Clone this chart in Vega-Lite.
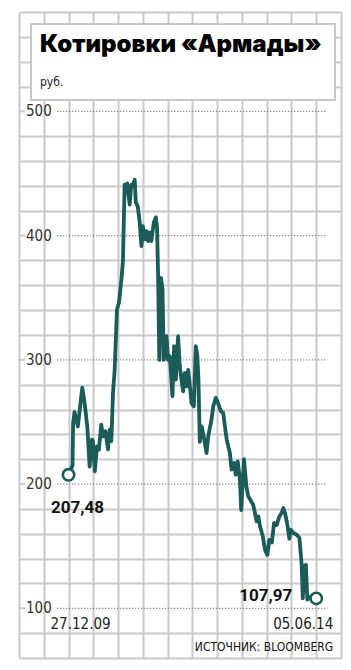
{
  "$schema": "https://vega.github.io/schema/vega-lite/v6.json",
  "width": 322,
  "height": 646,
  "autosize": {"type": "none"},
  "padding": {"left": 19, "top": 12, "right": 10, "bottom": 12},
  "background": "white",
  "config": {"view": {"stroke": null}},
  "title": {
    "text": "Котировки «Армады»",
    "subtitle": "руб.",
    "anchor": "start",
    "frame": "group",
    "offset": -81,
    "dx": 21,
    "font": "Inter",
    "fontSize": 24,
    "fontWeight": 900,
    "color": "#000000",
    "subtitleFont": "Liberation Sans Narrow, DejaVu Sans Condensed, Roboto",
    "subtitleFontSize": 12,
    "subtitleColor": "#222222",
    "subtitlePadding": 20
  },
  "datasets": {
    "prices": [
      {"date": "2009-12-27", "price": 207.48},
      {"date": "2010-01-22", "price": 215},
      {"date": "2010-01-26", "price": 249},
      {"date": "2010-02-04", "price": 258},
      {"date": "2010-02-26", "price": 246.5},
      {"date": "2010-03-27", "price": 277.7},
      {"date": "2010-04-11", "price": 265.4},
      {"date": "2010-04-29", "price": 246},
      {"date": "2010-05-14", "price": 214},
      {"date": "2010-05-29", "price": 235.8},
      {"date": "2010-06-04", "price": 235},
      {"date": "2010-06-17", "price": 210.2},
      {"date": "2010-07-01", "price": 230.4},
      {"date": "2010-07-14", "price": 227.7},
      {"date": "2010-07-29", "price": 247.9},
      {"date": "2010-08-09", "price": 238.4},
      {"date": "2010-08-25", "price": 242.5},
      {"date": "2010-09-11", "price": 228},
      {"date": "2010-09-22", "price": 243.8},
      {"date": "2010-10-03", "price": 234.6},
      {"date": "2010-10-14", "price": 273.6},
      {"date": "2010-10-25", "price": 292},
      {"date": "2010-11-09", "price": 340.5},
      {"date": "2010-11-22", "price": 346},
      {"date": "2010-12-08", "price": 364.7},
      {"date": "2010-12-18", "price": 379.5},
      {"date": "2010-12-29", "price": 441},
      {"date": "2011-01-08", "price": 437},
      {"date": "2011-01-15", "price": 442},
      {"date": "2011-01-31", "price": 425},
      {"date": "2011-02-11", "price": 441},
      {"date": "2011-02-20", "price": 440},
      {"date": "2011-03-05", "price": 445},
      {"date": "2011-03-12", "price": 427},
      {"date": "2011-03-25", "price": 423.5},
      {"date": "2011-04-07", "price": 410.6},
      {"date": "2011-04-18", "price": 391.5},
      {"date": "2011-04-28", "price": 407.6},
      {"date": "2011-05-10", "price": 397},
      {"date": "2011-05-21", "price": 403.6},
      {"date": "2011-05-31", "price": 395.6},
      {"date": "2011-06-11", "price": 402.6},
      {"date": "2011-06-22", "price": 395.6},
      {"date": "2011-07-08", "price": 410.6},
      {"date": "2011-07-21", "price": 414.7},
      {"date": "2011-07-29", "price": 407.6},
      {"date": "2011-08-05", "price": 368.7},
      {"date": "2011-08-13", "price": 300},
      {"date": "2011-08-24", "price": 366},
      {"date": "2011-09-03", "price": 357},
      {"date": "2011-09-11", "price": 300},
      {"date": "2011-09-29", "price": 319},
      {"date": "2011-10-09", "price": 300},
      {"date": "2011-10-21", "price": 303},
      {"date": "2011-11-07", "price": 270.7},
      {"date": "2011-11-18", "price": 311},
      {"date": "2011-11-29", "price": 284},
      {"date": "2011-12-14", "price": 319},
      {"date": "2011-12-25", "price": 295},
      {"date": "2012-01-05", "price": 284},
      {"date": "2012-01-16", "price": 274.7},
      {"date": "2012-01-27", "price": 289.5},
      {"date": "2012-02-07", "price": 278.7},
      {"date": "2012-02-18", "price": 292},
      {"date": "2012-02-29", "price": 279},
      {"date": "2012-03-11", "price": 265},
      {"date": "2012-03-26", "price": 262.6},
      {"date": "2012-04-08", "price": 311},
      {"date": "2012-04-18", "price": 303},
      {"date": "2012-04-25", "price": 285},
      {"date": "2012-05-04", "price": 234},
      {"date": "2012-05-16", "price": 246.5},
      {"date": "2012-06-02", "price": 236},
      {"date": "2012-06-17", "price": 225},
      {"date": "2012-06-28", "price": 238.4},
      {"date": "2012-07-20", "price": 252},
      {"date": "2012-07-31", "price": 262.6},
      {"date": "2012-08-17", "price": 269.4},
      {"date": "2012-09-01", "price": 265},
      {"date": "2012-09-19", "price": 258.6},
      {"date": "2012-10-04", "price": 257.3},
      {"date": "2012-10-27", "price": 235.8},
      {"date": "2012-11-17", "price": 225},
      {"date": "2012-11-28", "price": 211.6},
      {"date": "2012-12-15", "price": 217},
      {"date": "2012-12-25", "price": 207.6},
      {"date": "2013-01-07", "price": 218.3},
      {"date": "2013-01-22", "price": 203},
      {"date": "2013-01-30", "price": 179},
      {"date": "2013-02-17", "price": 220},
      {"date": "2013-03-05", "price": 198},
      {"date": "2013-03-17", "price": 190},
      {"date": "2013-03-28", "price": 188},
      {"date": "2013-04-19", "price": 183},
      {"date": "2013-04-30", "price": 176.7},
      {"date": "2013-05-11", "price": 170},
      {"date": "2013-05-22", "price": 174},
      {"date": "2013-06-02", "price": 166},
      {"date": "2013-06-20", "price": 158},
      {"date": "2013-07-05", "price": 147},
      {"date": "2013-07-20", "price": 143},
      {"date": "2013-08-02", "price": 155},
      {"date": "2013-08-19", "price": 153},
      {"date": "2013-09-02", "price": 168.7},
      {"date": "2013-09-19", "price": 167},
      {"date": "2013-10-07", "price": 174},
      {"date": "2013-10-22", "price": 177},
      {"date": "2013-11-02", "price": 180.7},
      {"date": "2013-11-13", "price": 176.7},
      {"date": "2013-11-28", "price": 167.3},
      {"date": "2013-12-11", "price": 156},
      {"date": "2013-12-20", "price": 163.3},
      {"date": "2014-01-06", "price": 160.6},
      {"date": "2014-01-28", "price": 159.2},
      {"date": "2014-02-15", "price": 156.6},
      {"date": "2014-03-01", "price": 136},
      {"date": "2014-03-09", "price": 108},
      {"date": "2014-03-20", "price": 134},
      {"date": "2014-03-29", "price": 135},
      {"date": "2014-04-08", "price": 107},
      {"date": "2014-04-21", "price": 109},
      {"date": "2014-05-09", "price": 108.5},
      {"date": "2014-06-05", "price": 107.97}
    ],
    "ends": [
      {"date": "2009-12-27", "price": 207.48, "label": "207,48", "dateLabel": "27.12.09", "side": "start"},
      {"date": "2014-06-05", "price": 107.97, "label": "107,97", "dateLabel": "05.06.14", "side": "end"}
    ],
    "levels": [
      {"level": 100}, {"level": 200}, {"level": 300}, {"level": 400}, {"level": 500}
    ]
  },
  "encoding": {
    "x": {"type": "temporal", "scale": {"type": "utc", "domain": [1233861120000, 1415931840000]},
      "axis": {"values": [1233861120000, 1247866560000, 1261872000000, 1275877440000, 1289882880000, 1303888320000, 1317893760000, 1331899200000, 1345904640000, 1359910080000, 1373915520000, 1387920960000, 1401926400000, 1415931840000],
        "grid": true, "gridColor": "#c9c9c9", "gridWidth": 2, "labels": false, "ticks": false, "domain": false, "title": null}},
    "y": {"type": "quantitative", "scale": {"domain": [60, 580], "nice": false, "zero": false},
      "axis": {"values": [60, 80, 120, 140, 160, 180, 220, 240, 260, 280, 320, 340, 360, 380, 420, 440, 460, 480, 520, 540, 560, 580],
        "grid": true, "gridColor": "#c9c9c9", "gridWidth": 2, "ticks": false, "domain": false, "title": null,
        "labelExpr": "''", "labelOverlap": false}}
  },
  "layer": [
    {
      "data": {"values": [{}]},
      "mark": {"type": "rect", "fill": "white", "stroke": "#c8c8c8", "strokeWidth": 2},
      "encoding": {
        "x": {"datum": 1240646756000, "type": "temporal"},
        "x2": {"datum": 1412542524000},
        "y": {"datum": 570.3, "type": "quantitative"},
        "y2": {"datum": 509.2}
      }
    },
    {
      "data": {"name": "levels"},
      "mark": {"type": "rule", "stroke": "#c9c9c9", "strokeWidth": 2},
      "encoding": {
        "y": {"field": "level", "type": "quantitative"},
        "x": {"datum": 1233861120000, "type": "temporal"},
        "x2": {"datum": 1237253549000}
      }
    },
    {
      "data": {"name": "levels"},
      "mark": {"type": "rule", "stroke": "#8a8a8a", "strokeWidth": 1.3, "strokeDash": [1.3, 1.7]},
      "encoding": {
        "y": {"field": "level", "type": "quantitative"},
        "x": {"datum": 1255345465000, "type": "temporal"},
        "x2": {"datum": 1407448543000}
      }
    },
    {
      "data": {"name": "levels"},
      "mark": {"type": "text", "font": "Liberation Sans Narrow, DejaVu Sans Condensed, Roboto", "fontSize": 15, "color": "#333333", "align": "left", "baseline": "middle", "dx": 7},
      "encoding": {
        "y": {"field": "level", "type": "quantitative"},
        "x": {"datum": 1233861120000, "type": "temporal"},
        "text": {"field": "level", "type": "quantitative"}
      }
    },
    {
      "data": {"name": "prices"},
      "mark": {"type": "line", "stroke": "#1b5b58", "strokeWidth": 3.8, "strokeJoin": "round", "strokeCap": "round"},
      "encoding": {
        "x": {"field": "date", "type": "temporal"},
        "y": {"field": "price", "type": "quantitative"}
      }
    },
    {
      "data": {"name": "ends"},
      "mark": {"type": "point", "shape": "circle", "filled": true, "fill": "white", "stroke": "#1b5b58", "strokeWidth": 2.6, "size": 130, "opacity": 1},
      "encoding": {
        "x": {"field": "date", "type": "temporal"},
        "y": {"field": "price", "type": "quantitative"}
      }
    },
    {
      "data": {"name": "ends"},
      "transform": [{"filter": "datum.side === 'start'"}],
      "mark": {"type": "text", "font": "Roboto", "fontWeight": "bold", "fontSize": 17, "color": "#111111", "align": "center", "baseline": "middle", "dx": 9, "dy": 33},
      "encoding": {
        "x": {"field": "date", "type": "temporal"},
        "y": {"field": "price", "type": "quantitative"},
        "text": {"field": "label"}
      }
    },
    {
      "data": {"name": "ends"},
      "transform": [{"filter": "datum.side === 'end'"}],
      "mark": {"type": "text", "font": "Roboto", "fontWeight": "bold", "fontSize": 17, "color": "#111111", "align": "right", "baseline": "middle", "dx": -24, "dy": -2},
      "encoding": {
        "x": {"field": "date", "type": "temporal"},
        "y": {"field": "price", "type": "quantitative"},
        "text": {"field": "label"}
      }
    },
    {
      "data": {"name": "ends"},
      "mark": {"type": "text", "font": "Liberation Sans Narrow, DejaVu Sans Condensed, Roboto", "fontSize": 15, "color": "#222222", "baseline": "middle", "align": {"expr": "datum.side === 'start' ? 'left' : 'right'"}, "dx": {"expr": "datum.side === 'start' ? -18 : 17"}},
      "encoding": {
        "x": {"field": "date", "type": "temporal"},
        "y": {"datum": 87.4, "type": "quantitative"},
        "text": {"field": "dateLabel"}
      }
    },
    {
      "data": {"values": [{"source": "ИСТОЧНИК: BLOOMBERG"}]},
      "mark": {"type": "text", "font": "Liberation Sans Narrow, DejaVu Sans Condensed, Roboto", "fontSize": 12, "color": "#111111", "baseline": "middle", "align": "right", "dx": 17},
      "encoding": {
        "x": {"datum": 1401926400000, "type": "temporal"},
        "y": {"datum": 68.8, "type": "quantitative"},
        "text": {"field": "source"}
      }
    }
  ]
}
